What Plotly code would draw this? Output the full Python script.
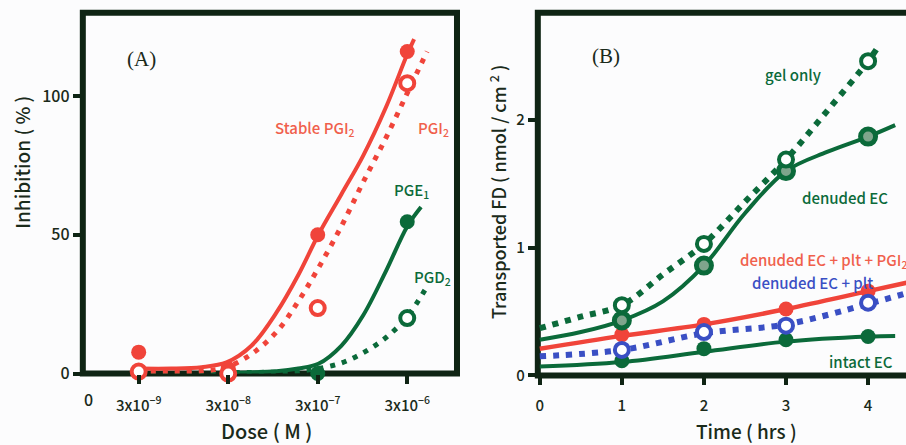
import plotly.graph_objects as go

# ---------------- Panel A data ----------------
dose_cats = [3e-9, 3e-8, 3e-7, 3e-6]
dose_labels = ["3x10<sup>−9</sup>", "3x10<sup>−8</sup>", "3x10<sup>−7</sup>", "3x10<sup>−6</sup>"]

stable_pgi2_pts = [7.7, 1.8, 50, 116]
pgi2_pts = [0.7, 0.0, 23.6, 104.6]
pge1_dose = [3e-7, 3e-6]
pge1_pts = [0.0, 54.7]
pgd2_dose = [3e-6]
pgd2_pts = [20.0]

# fitted curves
stable_curve_dose = [3.0e-9, 7.0e-9, 1.51e-8, 2.87e-8, 5.45e-8, 1.04e-7, 1.82e-7, 3.05e-7, 5.5e-7, 9.67e-7, 1.74e-6, 3.0e-6, 3.58e-6]
stable_curve_y = [1.8, 1.8, 2.3, 4.0, 10, 22, 35.5, 50, 64.5, 78.5, 96, 115, 120.5]
pgi2_curve_dose = [3.0e-9, 7.0e-9, 1.51e-8, 2.87e-8, 5.45e-8, 1.04e-7, 1.82e-7, 3.05e-7, 5.5e-7, 9.67e-7, 1.74e-6, 3.0e-6, 5.0e-6]
pgi2_curve_y = [0.7, 0.7, 0.9, 2.3, 7, 15, 26, 38, 53, 69, 85, 101, 116]
pge1_curve_dose = [2.87e-8, 5.45e-8, 1.04e-7, 1.82e-7, 3.05e-7, 5.5e-7, 9.67e-7, 1.74e-6, 3.0e-6, 4.28e-6]
pge1_curve_y = [0.3, 0.4, 0.8, 1.8, 3.5, 10, 21, 37, 53, 60]
pgd2_curve_dose = [3.0e-9, 2.87e-8, 1.04e-7, 1.82e-7, 3.05e-7, 5.5e-7, 9.67e-7, 1.74e-6, 3.0e-6, 5.13e-6]
pgd2_curve_y = [0.5, 0.4, 0.5, 0.9, 1.8, 3.8, 7.5, 13, 20.5, 32]

# ---------------- Panel B data ----------------
time_pts = [1, 2, 3, 4]
gel_only = [0.55, 1.03, 1.69, 2.46]
denuded_ec = [0.43, 0.86, 1.60, 1.87]
den_plt_pgi2 = [0.32, 0.40, 0.52, 0.66]
den_plt = [0.20, 0.34, 0.39, 0.57]
intact_ec = [0.115, 0.21, 0.28, 0.305]

gel_curve_t = [0, 0.5, 1, 1.5, 2, 2.5, 3, 3.5, 4, 4.13]
gel_curve_y = [0.37, 0.46, 0.55, 0.79, 1.03, 1.36, 1.69, 2.07, 2.46, 2.58]
den_curve_t = [0, 0.5, 1, 1.5, 2, 2.5, 3, 3.5, 4, 4.33]
den_curve_y = [0.28, 0.34, 0.43, 0.58, 0.86, 1.27, 1.60, 1.75, 1.87, 1.96]
pgi2b_curve_t = [0, 1, 2, 3, 4, 4.5]
pgi2b_curve_y = [0.21, 0.31, 0.40, 0.52, 0.66, 0.73]
plt_curve_t = [0, 1, 2, 3, 4, 4.5]
plt_curve_y = [0.15, 0.20, 0.33, 0.40, 0.56, 0.65]
intact_curve_t = [0, 1, 2, 3, 4, 4.33]
intact_curve_y = [0.07, 0.105, 0.185, 0.265, 0.305, 0.31]

RED = "#f0443a"
RED_TXT = "#f0604c"
GREEN = "#0b6a3a"
BLUE = "#3a4fc4"
FRAME = "#0f2414"
BG = "#fcfcfd"
SANS = "Noto Sans CJK JP"

W, H = 906, 445
def px(x):
    return x / W
def py(y):
    return 1 - y / H

fig = go.Figure()

def curve(x, y, color, xa, ya, dash=None, width=4):
    fig.add_trace(go.Scatter(x=x, y=y, mode="lines", xaxis=xa, yaxis=ya,
                             line=dict(color=color, width=width, shape="spline", smoothing=1.0,
                                       dash=dash if dash else "solid"),
                             hoverinfo="skip", showlegend=False, cliponaxis=False))

def pts(x, y, color, xa, ya, kind="filled", size=15):
    if kind == "filled":
        m = dict(color=color, size=size, line=dict(width=0))
    elif kind == "open":
        m = dict(color="white", size=size - 1, line=dict(color=color, width=4))
    else:
        m = dict(color="#7fa58c", size=size, line=dict(color=color, width=5))
    fig.add_trace(go.Scatter(x=x, y=y, mode="markers", xaxis=xa, yaxis=ya, marker=m,
                             hoverinfo="skip", showlegend=False, cliponaxis=False))

# Panel A curves
curve(pgd2_curve_dose, pgd2_curve_y, GREEN, "x", "y", dash="5px,7px", width=5)
curve(pge1_curve_dose, pge1_curve_y, GREEN, "x", "y", width=4)
curve(pgi2_curve_dose, pgi2_curve_y, RED, "x", "y", dash="5px,7px", width=5)
curve(stable_curve_dose, stable_curve_y, RED, "x", "y", width=4)
pts(dose_cats, stable_pgi2_pts, RED, "x", "y", "filled")
pts(dose_cats, pgi2_pts, RED, "x", "y", "open")
pts(pge1_dose, pge1_pts, GREEN, "x", "y", "filled")
pts(pgd2_dose, pgd2_pts, GREEN, "x", "y", "open")

# Panel B curves
curve(intact_curve_t, intact_curve_y, GREEN, "x2", "y2", width=4)
curve(plt_curve_t, plt_curve_y, BLUE, "x2", "y2", dash="6px,7px", width=6)
curve(pgi2b_curve_t, pgi2b_curve_y, RED, "x2", "y2", width=4.5)
curve(den_curve_t, den_curve_y, GREEN, "x2", "y2", width=4)
curve(gel_curve_t, gel_curve_y, GREEN, "x2", "y2", dash="6px,7px", width=6)
pts(time_pts, intact_ec, GREEN, "x2", "y2", "filled")
pts(time_pts, den_plt_pgi2, RED, "x2", "y2", "filled")
pts(time_pts, den_plt, BLUE, "x2", "y2", "open")
pts(time_pts, denuded_ec, GREEN, "x2", "y2", "hatched")
pts(time_pts, gel_only, GREEN, "x2", "y2", "open")

TXT = "#1a2a1a"
common = dict(showgrid=False, zeroline=False, showline=False, ticks="outside",
              ticklen=9, tickwidth=4, tickcolor=FRAME)
fontA = dict(family=SANS, size=15, color=TXT, weight=500)
fontB = dict(family=SANS, size=15, color=TXT, weight=500)

fig.update_layout(
    width=W, height=H, margin=dict(l=0, r=0, t=0, b=0),
    paper_bgcolor=BG, plot_bgcolor="rgba(0,0,0,0)",
    xaxis=dict(type="log", domain=[px(81), px(456)], range=[-9.147, -4.967],
               tickvals=dose_cats, ticktext=dose_labels, ticklabelstandoff=9,
               tickfont=fontA, **common),
    yaxis=dict(domain=[py(383), py(13)], range=[0, 130], tickvals=[0, 50, 100],
               tickfont=dict(family=SANS, size=16, color=TXT, weight=500), **common),
    xaxis2=dict(domain=[px(537), 1.0], range=[-0.024, 4.462], tickvals=[0, 1, 2, 3, 4],
                ticklabelstandoff=8, anchor="y2", tickfont=fontB, **common),
    yaxis2=dict(domain=[py(385), py(13)], range=[0, 2.84], tickvals=[0, 1, 2], anchor="x2",
                tickfont=fontB, **common),
)

fig.add_shape(type="rect", xref="x domain", yref="y domain", x0=0, x1=1, y0=0, y1=1,
              line=dict(color=FRAME, width=6), layer="below")
fig.add_shape(type="rect", xref="x2 domain", yref="y2 domain", x0=0, x1=1.1, y0=0, y1=1,
              line=dict(color=FRAME, width=6), layer="below")

def ann(text, x, y, color=TXT, size=14, family=SANS, angle=0, xanchor="center", weight=500):
    fig.add_annotation(text=text, x=px(x), y=py(y), xref="paper", yref="paper",
                       showarrow=False, font=dict(family=family, size=size, color=color, weight=weight),
                       textangle=angle, xanchor=xanchor, yanchor="middle")

# Panel A texts
ann("(A)", 140, 60, size=21, family="Liberation Serif", weight=400)
ann("Stable PGI<sub>2</sub>", 314, 132, color=RED_TXT, size=15)
ann("PGI<sub>2</sub>", 432, 132, color=RED_TXT, size=15)
ann("PGE<sub>1</sub>", 410, 195, color=GREEN, size=15)
ann("PGD<sub>2</sub>", 431, 285, color=GREEN, size=15)
ann("Inhibition ( % )", 20, 166, size=19, angle=-90)
ann("Dose ( M )", 265, 441, size=20)
ann("0", 87, 409, size=16)

# Panel B texts
ann("(B)", 605, 57, size=21, family="Liberation Serif", weight=400)
ann("gel only", 793, 76, color=GREEN, size=15)
ann("denuded EC", 845, 202, color=GREEN, size=15)
ann("denuded EC + plt + PGI<sub>2</sub>", 738, 267, color=RED_TXT, size=15, xanchor="left")
ann("denuded EC + plt", 750, 290, color=BLUE, size=15, xanchor="left")
ann("intact EC", 861, 371, color=GREEN, size=15)
ann("Transported FD ( nmol / cm <sup>2</sup> )", 497, 197, size=18, angle=-90)
ann("Time ( hrs )", 746, 441, size=19)

fig.write_html("out.html")
